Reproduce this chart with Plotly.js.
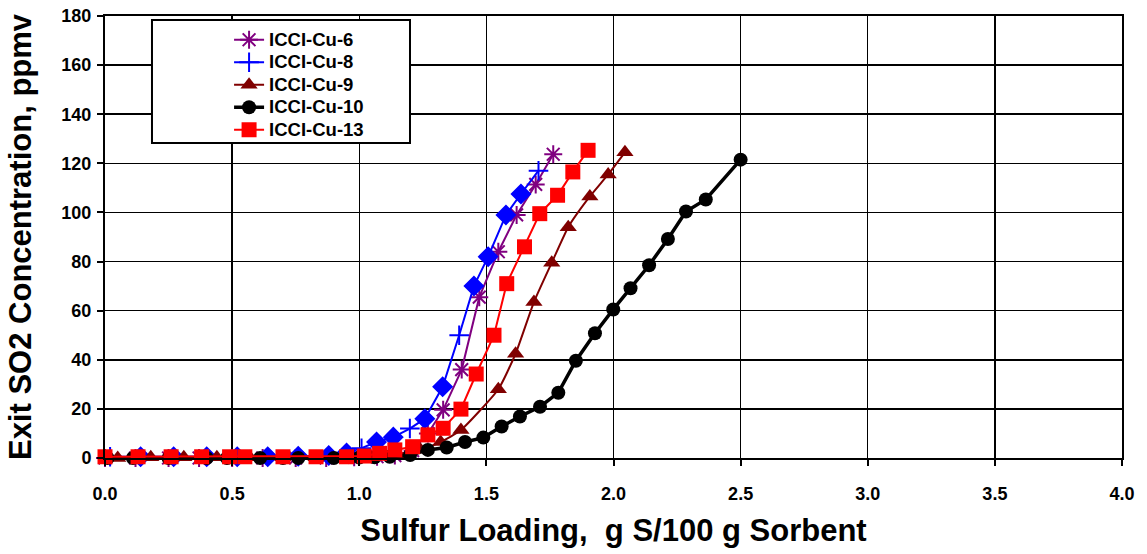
<!DOCTYPE html>
<html>
<head>
<meta charset="utf-8">
<script src="https://cdn.plot.ly/plotly-3.0.1.min.js"></script>
<style>html,body{margin:0;padding:0;background:#fff;}#chart{width:1147px;height:554px;}</style>
</head>
<body>
<div id="chart"></div>
<script>
// ICCI-Cu-6 (purple, asterisk)
const cu6X = [0.00, 0.12, 0.25, 0.37, 0.50, 0.62, 0.75, 0.87, 0.98, 1.07, 1.14, 1.21, 1.27, 1.33, 1.403, 1.472, 1.547, 1.619, 1.694, 1.763];
const cu6Y = [0, 0, 0, 0, 0, 0, 0, 0, 0.3, 0.5, 1.0, 3.0, 10.0, 19.6, 36.0, 65.5, 84.0, 99.0, 111.4, 123.7];
// ICCI-Cu-8 (blue, plus / diamond)
const cu8X = [0.02, 0.14, 0.27, 0.40, 0.52, 0.64, 0.76, 0.88, 0.95, 1.009, 1.068, 1.134, 1.199, 1.258, 1.328, 1.393, 1.451, 1.507, 1.577, 1.636, 1.705];
const cu8Y = [0.5, 0.5, 0.5, 0.5, 0.5, 0.5, 0.7, 1.0, 2.0, 4.0, 6.5, 8.5, 12.0, 16.0, 29.0, 50.0, 70.0, 82.0, 99.0, 107.5, 117.0];
const cu8Sym = ['cross-thin','diamond','diamond','diamond','diamond','diamond','diamond','diamond','diamond','cross-thin','diamond','diamond','cross-thin','diamond','diamond','cross-thin','diamond','diamond','diamond','diamond','cross-thin'];
// ICCI-Cu-9 (dark red, triangle)
const cu9X = [0.05, 0.18, 0.31, 0.44, 0.57, 0.70, 0.83, 0.96, 1.07, 1.15, 1.24, 1.32, 1.40, 1.547, 1.615, 1.687, 1.757, 1.822, 1.907, 1.979, 2.045];
const cu9Y = [0, 0.3, 0.3, 0.3, 0.3, 0.3, 0.3, 0.5, 0.8, 1.5, 3.5, 6.5, 11.4, 28.0, 42.5, 63.5, 79.5, 94.0, 106.5, 115.5, 124.5];
// ICCI-Cu-10 (black, circle)
const cu10X = [0.01, 0.11, 0.25, 0.40, 0.48, 0.61, 0.70, 0.76, 0.90, 1.00, 1.06, 1.12, 1.20, 1.27, 1.344, 1.416, 1.488, 1.56, 1.632, 1.711, 1.783, 1.852, 1.927, 1.999, 2.067, 2.14, 2.214, 2.285, 2.363, 2.50];
const cu10Y = [0, 0, 0, 0, 0, 0, 0, 0, 0, 0.2, 0.3, 0.5, 1.2, 3.3, 4.3, 6.5, 8.3, 12.8, 16.9, 20.9, 26.6, 39.6, 50.8, 60.5, 69.1, 78.5, 89.2, 100.4, 105.3, 121.5];
// ICCI-Cu-13 (red, square)
const cu13X = [0.00, 0.13, 0.26, 0.38, 0.49, 0.55, 0.70, 0.83, 0.95, 1.02, 1.08, 1.14, 1.21, 1.27, 1.33, 1.40, 1.46, 1.53, 1.58, 1.65, 1.71, 1.78, 1.84, 1.90];
const cu13Y = [0.5, 0.5, 0.5, 0.5, 0.5, 0.5, 0.5, 0.5, 0.5, 0.8, 1.9, 3.3, 4.6, 9.4, 12.1, 19.9, 34.2, 50.0, 71.0, 86.0, 99.5, 107.0, 116.5, 125.3];

const seriesNames = ['ICCI-Cu-6', 'ICCI-Cu-8', 'ICCI-Cu-9', 'ICCI-Cu-10', 'ICCI-Cu-13'];
const xTickVals = [0, 0.5, 1.0, 1.5, 2.0, 2.5, 3.0, 3.5, 4.0];
const xTickText = ['0.0', '0.5', '1.0', '1.5', '2.0', '2.5', '3.0', '3.5', '4.0'];
const yTickVals = [0, 20, 40, 60, 80, 100, 120, 140, 160, 180];

const FONT = 'Arial, "Liberation Sans", sans-serif';
const legendName = n => '<span style="font-size:18.5px">' + n + '</span>';

const traces = [
  {
    x: cu6X, y: cu6Y, name: legendName(seriesNames[0]), type: 'scatter', mode: 'lines+markers', cliponaxis: false,
    line: {color: '#800080', width: 2},
    marker: {symbol: 'asterisk-open', size: 15, color: '#800080', line: {color: '#800080', width: 2}}
  },
  {
    x: cu8X, y: cu8Y, name: legendName(seriesNames[1]), type: 'scatter', mode: 'lines+markers', cliponaxis: false,
    line: {color: '#0000FF', width: 2},
    marker: {symbol: cu8Sym, size: 14, color: '#0000FF', line: {color: '#0000FF', width: 2}}
  },
  {
    x: cu9X, y: cu9Y, name: legendName(seriesNames[2]), type: 'scatter', mode: 'lines+markers', cliponaxis: false,
    line: {color: '#800000', width: 2, shape: 'spline', smoothing: 0.5},
    marker: {symbol: 'triangle-up', size: 15, color: '#800000'}
  },
  {
    x: cu10X, y: cu10Y, name: legendName(seriesNames[3]), type: 'scatter', mode: 'lines+markers', cliponaxis: false,
    line: {color: '#000000', width: 3.5},
    marker: {symbol: 'circle', size: 14, color: '#000000'}
  },
  {
    x: cu13X, y: cu13Y, name: legendName(seriesNames[4]), type: 'scatter', mode: 'lines+markers', cliponaxis: false,
    line: {color: '#FF0000', width: 2},
    marker: {symbol: 'square', size: 15, color: '#FF0000'}
  }
];

const layout = {
  width: 1147, height: 554,
  margin: {l: 105, r: 25, t: 16, b: 96},
  paper_bgcolor: '#ffffff', plot_bgcolor: '#ffffff',
  font: {family: FONT, color: '#000000', weight: 'bold'},
  showlegend: true,
  legend: {
    x: 0.122, y: 0.983, xanchor: 'left', yanchor: 'top',
    bgcolor: 'rgba(0,0,0,0)', borderwidth: 0,
    font: {family: FONT, size: 15, color: '#000000', weight: 'bold'},
    traceorder: 'normal'
  },
  shapes: [{
    type: 'rect', xref: 'paper', yref: 'paper',
    x0: 0.0462, x1: 0.2999, y0: 0.7127, y1: 0.991,
    line: {color: '#000000', width: 2}, fillcolor: '#ffffff', layer: 'above'
  }],
  xaxis: {
    range: [0, 4], tickvals: xTickVals, ticktext: xTickText,
    showgrid: true, gridcolor: '#000000', gridwidth: 1.3,
    showline: true, linecolor: '#000000', linewidth: 2, mirror: true,
    ticks: 'outside', ticklen: 6, tickwidth: 2, tickcolor: '#000000',
    tickfont: {family: FONT, size: 18, weight: 'bold'},
    ticklabelstandoff: 12,
    zeroline: false, fixedrange: true,
    title: {text: 'Sulfur Loading,  g S/100 g Sorbent', font: {family: FONT, size: 31, weight: 'bold'}, standoff: 17}
  },
  yaxis: {
    range: [0, 180], tickvals: yTickVals,
    showgrid: true, gridcolor: '#000000', gridwidth: 1.6,
    showline: true, linecolor: '#000000', linewidth: 2, mirror: true,
    ticks: 'outside', ticklen: 6, tickwidth: 2, tickcolor: '#000000',
    tickfont: {family: FONT, size: 18, weight: 'bold'},
    ticklabelstandoff: 2,
    zeroline: false, fixedrange: true,
    title: {text: 'Exit SO2 Concentration, ppmv', font: {family: FONT, size: 31, weight: 'bold'}, standoff: 21}
  }
};

Plotly.newPlot('chart', traces, layout, {displayModeBar: false, staticPlot: true});
</script>
</body>
</html>
